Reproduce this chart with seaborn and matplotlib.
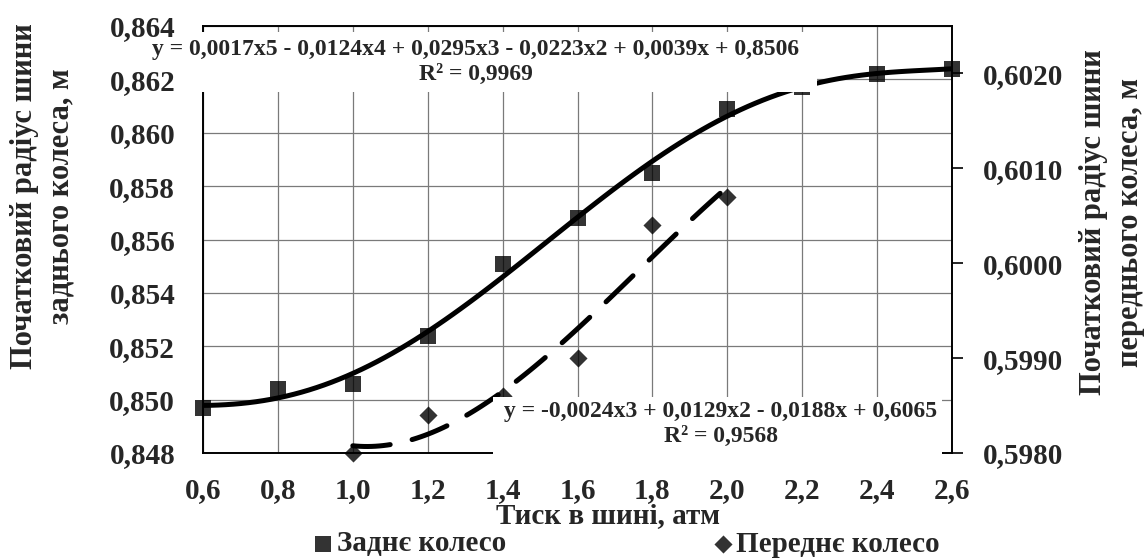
import matplotlib
matplotlib.use("Agg")
import matplotlib.pyplot as plt
import seaborn as sns
from matplotlib.patches import Rectangle

# Data
pressure = [0.6, 0.8, 1.0, 1.2, 1.4, 1.6, 1.8, 2.0, 2.2, 2.4, 2.6]
rear_radius = [0.8497, 0.8504, 0.8506, 0.8524, 0.8551, 0.8568, 0.8585, 0.8609, 0.8617, 0.8622, 0.8624]
front_pressure = [1.0, 1.2, 1.4, 1.6, 1.8, 2.0]
front_radius = [0.5980, 0.5984, 0.5986, 0.5990, 0.6004, 0.6007]

x_ticks = [0.6, 0.8, 1.0, 1.2, 1.4, 1.6, 1.8, 2.0, 2.2, 2.4, 2.6]
x_tick_labels = ["0,6", "0,8", "1,0", "1,2", "1,4", "1,6", "1,8", "2,0", "2,2", "2,4", "2,6"]
left_ticks = [0.848, 0.850, 0.852, 0.854, 0.856, 0.858, 0.860, 0.862, 0.864]
left_tick_labels = ["0,848", "0,850", "0,852", "0,854", "0,856", "0,858", "0,860", "0,862", "0,864"]
right_ticks = [0.5980, 0.5990, 0.6000, 0.6010, 0.6020]
right_tick_labels = ["0,5980", "0,5990", "0,6000", "0,6010", "0,6020"]

rear_label = "Заднє колесо"
front_label = "Переднє колесо"
rear_eq = "y = 0,0017x5 - 0,0124x4 + 0,0295x3 - 0,0223x2 + 0,0039x + 0,8506\nR² = 0,9969"
front_eq = "y = -0,0024x3 + 0,0129x2 - 0,0188x + 0,6065\nR² = 0,9568"

sns.set_style("white")
plt.rcParams["font.family"] = ["Liberation Serif", "DejaVu Serif"]
plt.rcParams["font.weight"] = "bold"

W, H = 1145, 559
fig = plt.figure(figsize=(W / 100, H / 100), dpi=100)
ax = fig.add_axes([203 / W, 1 - 453 / H, (952 - 203) / W, (453 - 26) / H])
ax2 = ax.twinx()

# rear wheel: squares + 5th order trend
sns.regplot(x=pressure, y=rear_radius, order=5, ci=None, ax=ax, marker="s",
            label=rear_label,
            scatter_kws=dict(s=135, color="black", linewidths=0, zorder=4, clip_on=False),
            line_kws=dict(color="black", lw=3.6, zorder=3))

# front wheel: diamonds + 3rd order dashed trend
sns.regplot(x=front_pressure, y=front_radius, order=3, ci=None, ax=ax2, marker="D",
            label=front_label,
            scatter_kws=dict(s=85, color="black", linewidths=0, zorder=4, clip_on=False),
            line_kws=dict(color="black", lw=3.6, dashes=(7.5, 4.5),
                          dash_capstyle="round", zorder=3))

ax.set_xlim(0.6, 2.6)
ax.set_ylim(0.848, 0.864)
ax2.set_ylim(0.5980, 0.6025)

ax.set_xticks(x_ticks)
ax.set_xticklabels(x_tick_labels)
ax.set_yticks(left_ticks)
ax.set_yticklabels(left_tick_labels)
ax2.set_yticks(right_ticks)
ax2.set_yticklabels(right_tick_labels)

ax.grid(True, color="#7a7a7a", lw=0.9)
ax.set_axisbelow(True)
ax.tick_params(axis="both", length=0, labelsize=21, pad=20)
ax.tick_params(axis="x", pad=17)
ax2.tick_params(axis="y", length=8, width=1.2, direction="out", labelsize=21, pad=14, color="black")
for a in (ax, ax2):
    for sp in a.spines.values():
        sp.set_color("black")
        sp.set_linewidth(1.2)
ax.set_xlabel("")
ax.set_ylabel("")
ax2.set_ylabel("")

# axis titles
fig.text(43 / W, 1 - 196 / H, "Початковий радіус шини\nзаднього колеса, м",
         rotation=90, ha="center", va="center", multialignment="center",
         fontsize=22, linespacing=1.35)
fig.text(1112 / W, 1 - 222 / H, "Початковий радіус шини\nпереднього колеса, м",
         rotation=90, ha="center", va="center", multialignment="center",
         fontsize=22, linespacing=1.35)
fig.text(608 / W, 1 - 516 / H, "Тиск в шині, атм", ha="center", va="center", fontsize=21)

# trendline equation labels on white boxes
fig.patches.append(Rectangle((190 / W, 1 - 92 / H), (817 - 190) / W, 60 / H,
                             transform=fig.transFigure, facecolor="white",
                             edgecolor="none", zorder=5))
fig.text(476 / W, 1 - 62 / H, rear_eq, ha="center", va="center",
         multialignment="center", fontsize=17, zorder=6)
fig.patches.append(Rectangle((493 / W, 1 - 456 / H), (942 - 493) / W, 59 / H,
                             transform=fig.transFigure, facecolor="white",
                             edgecolor="none", zorder=5))
fig.text(721 / W, 1 - 424 / H, front_eq, ha="center", va="center",
         multialignment="center", fontsize=17, zorder=6)

h1, l1 = ax.get_legend_handles_labels()
h2, l2 = ax2.get_legend_handles_labels()
fig.legend(h1 + h2, l1 + l2, loc="center", bbox_to_anchor=(628 / W, 1 - 544 / H),
           ncol=2, frameon=False, fontsize=21, handlelength=0.5, handletextpad=0.2,
           columnspacing=7.2, borderaxespad=0, borderpad=0)

fig.savefig("out.png", dpi=100, facecolor="white")
